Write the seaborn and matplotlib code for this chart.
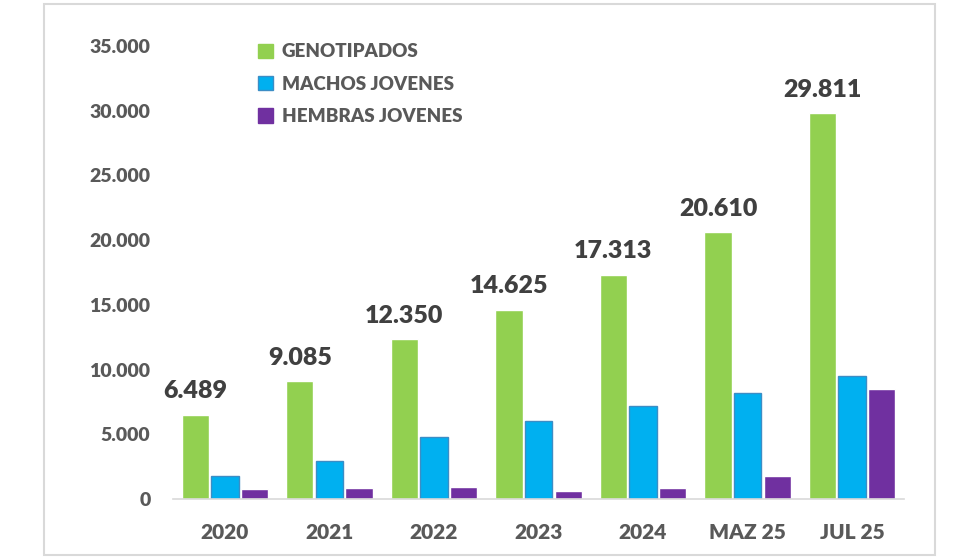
import matplotlib
matplotlib.use("Agg")
import matplotlib.pyplot as plt
import matplotlib.patches as mpatches
from matplotlib.ticker import FuncFormatter
import seaborn as sns
import pandas as pd

periods = ["2020", "2021", "2022", "2023", "2024", "MAZ 25", "JUL 25"]
genotipados = [6489, 9085, 12350, 14625, 17313, 20610, 29811]
machos = [1780, 2930, 4770, 6030, 7210, 8170, 9530]
hembras = [770, 870, 950, 600, 830, 1750, 8480]

series = ["GENOTIPADOS", "MACHOS JOVENES", "HEMBRAS JOVENES"]
colors = ["#92D050", "#00B0F0", "#7030A0"]

df = pd.DataFrame({
    "periodo": periods * 3,
    "serie": [series[0]] * 7 + [series[1]] * 7 + [series[2]] * 7,
    "valor": genotipados + machos + hembras,
})

sns.set_style("white")
plt.rcParams["font.family"] = ["Lato", "DejaVu Sans"]
plt.rcParams["font.weight"] = "bold"

fig = plt.figure(figsize=(9.8, 5.6), dpi=100)
ax = fig.add_axes([0.1762, 0.109, 0.7466, 0.809])

sns.barplot(data=df, x="periodo", y="valor", hue="serie", hue_order=series,
            palette=colors, width=0.85, gap=0.08, saturation=1,
            order=periods, ax=ax, legend=False)

# blue bars have a slightly darker outline
for bar in ax.containers[1]:
    bar.set_edgecolor("#3C8DC5")
    bar.set_linewidth(1.0)

# value labels on the green bars
for bar, v in zip(ax.containers[0], genotipados):
    ax.annotate(f"{v:,}".replace(",", "."),
                (bar.get_x() + bar.get_width() / 2, bar.get_height()),
                xytext=(0, 9), textcoords="offset points",
                ha="center", va="bottom", fontsize=18, fontweight="heavy",
                color="#404040")

ax.set_xlim(-0.5, 6.5)
ax.set_ylim(0, 35000)
ax.set_yticks(range(0, 35001, 5000))
ax.yaxis.set_major_formatter(FuncFormatter(lambda v, p: f"{int(v):,}".replace(",", ".")))
ax.set_xlabel("")
ax.set_ylabel("")
ax.tick_params(axis="y", length=0, pad=16, labelsize=14, labelcolor="#595959")
ax.tick_params(axis="x", length=0, pad=17, labelsize=15, labelcolor="#595959")
for lab in ax.get_xticklabels() + ax.get_yticklabels():
    lab.set_fontweight("heavy")

for s in ["left", "right", "top"]:
    ax.spines[s].set_visible(False)
ax.spines["bottom"].set_color("#D9D9D9")
ax.spines["bottom"].set_linewidth(1.2)

handles = [mpatches.Patch(facecolor=c, edgecolor=("#3C8DC5" if i == 1 else c), label=s)
           for i, (s, c) in enumerate(zip(series, colors))]
leg = ax.legend(handles=handles, loc="upper left", bbox_to_anchor=(0.093, 1.043),
                frameon=False, handlelength=0.8, handleheight=0.8,
                handletextpad=0.5, labelspacing=0.82, fontsize=13.5)
for t in leg.get_texts():
    t.set_color("#595959")
    t.set_fontweight("heavy")

# outer frame
fig.patches.append(mpatches.Rectangle((44 / 980, 5 / 560), 891 / 980, 551 / 560,
                                      transform=fig.transFigure, fill=False,
                                      edgecolor="#D9D9D9", linewidth=1.5))

fig.savefig("out.png", dpi=100, facecolor="white")
